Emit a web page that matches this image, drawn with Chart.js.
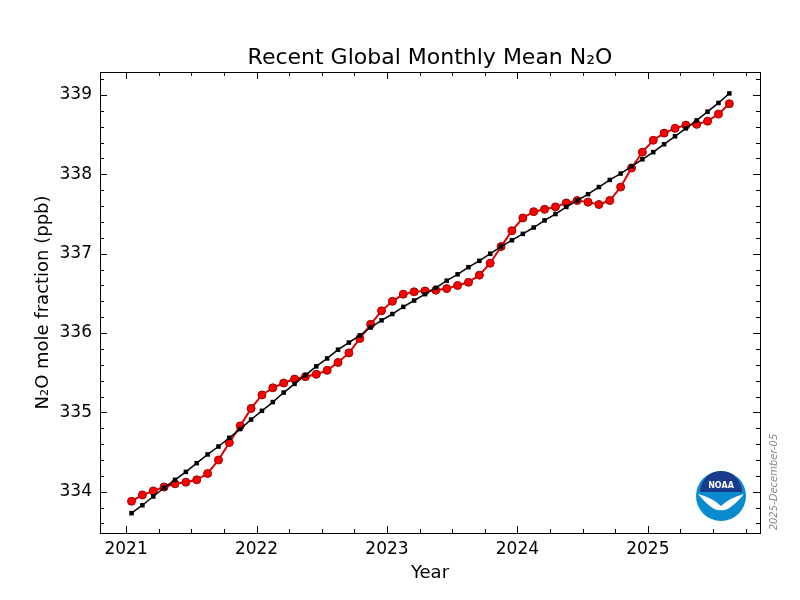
<!DOCTYPE html>
<html>
<head>
<meta charset="utf-8">
<script src="https://cdn.jsdelivr.net/npm/chart.js@4"></script>
<style>
  html, body { margin: 0; padding: 0; background: #fff; }
  #wrap { width: 800px; height: 600px; }
</style>
</head>
<body>
<div id="wrap"><canvas id="chart"></canvas></div>
<script>
const startYear = 2021;
const monthlyMean = [
  333.88, 333.96, 334.01, 334.06, 334.10, 334.12, 334.15, 334.23, 334.40, 334.62, 334.83, 335.05,
  335.22, 335.31, 335.37, 335.42, 335.45, 335.48, 335.53, 335.63, 335.75, 335.93, 336.11, 336.28,
  336.40, 336.49, 336.52, 336.53, 336.54, 336.56, 336.60, 336.64, 336.73, 336.88, 337.09, 337.29,
  337.45, 337.53, 337.56, 337.59, 337.64, 337.67, 337.65, 337.62, 337.67, 337.84, 338.08, 338.28,
  338.43, 338.52, 338.58, 338.62, 338.63, 338.67, 338.76, 338.89
];
const trend = [
  333.73, 333.83, 333.94, 334.05, 334.15, 334.25, 334.36, 334.47, 334.57, 334.68, 334.79, 334.91,
  335.02, 335.13, 335.25, 335.36, 335.47, 335.58, 335.68, 335.79, 335.88, 335.97, 336.07, 336.16,
  336.24, 336.33, 336.41, 336.49, 336.57, 336.66, 336.74, 336.83, 336.91, 337.00, 337.09, 337.17,
  337.25, 337.33, 337.42, 337.50, 337.59, 337.67, 337.75, 337.84, 337.93, 338.01, 338.10, 338.19,
  338.28, 338.38, 338.48, 338.58, 338.68, 338.79, 338.90, 339.02
];
const xTicks = [2021, 2022, 2023, 2024, 2025];
const yTicks = [334, 335, 336, 337, 338, 339];

const toPoints = arr => arr.map((v, i) => ({ x: startYear + (i + 0.5) / 12, y: v }));

// inward ticks, frame, titles, date stamp and logo
const decor = {
  id: 'decor',
  afterDraw(chart) {
    const { ctx, chartArea: a, scales: { x, y } } = chart;
    ctx.save();
    ctx.strokeStyle = '#000';
    ctx.lineWidth = 1;
    ctx.strokeRect(a.left + 0.5, a.top + 0.5, a.right - a.left, a.bottom - a.top);
    ctx.beginPath();
    for (let v = 2020.75; v <= x.max; v += 0.25) {
      if (v < x.min) continue;
      const px = Math.round(x.getPixelForValue(v)) + 0.5;
      const len = Number.isInteger(v) ? 7 : 4;
      ctx.moveTo(px, a.bottom); ctx.lineTo(px, a.bottom - len);
      ctx.moveTo(px, a.top); ctx.lineTo(px, a.top + len);
    }
    for (let k = Math.ceil(y.min * 5); k <= y.max * 5; k++) {
      const py = Math.round(y.getPixelForValue(k / 5)) + 0.5;
      const len = k % 5 === 0 ? 7 : 4;
      ctx.moveTo(a.left, py); ctx.lineTo(a.left + len, py);
      ctx.moveTo(a.right, py); ctx.lineTo(a.right - len, py);
    }
    ctx.stroke();

    ctx.fillStyle = '#000';
    ctx.textAlign = 'center';
    ctx.textBaseline = 'alphabetic';
    ctx.font = '22px "DejaVu Sans"';
    ctx.fillText('Recent Global Monthly Mean N₂O', (a.left + a.right) / 2, 64);
    ctx.font = '18px "DejaVu Sans"';
    ctx.fillText('Year', (a.left + a.right) / 2, 578);

    ctx.save();
    ctx.translate(48, (a.top + a.bottom) / 2);
    ctx.rotate(-Math.PI / 2);
    ctx.fillText('N₂O mole fraction (ppb)', 0, 0);
    ctx.restore();

    ctx.save();
    ctx.translate(777, 482);
    ctx.rotate(-Math.PI / 2);
    ctx.fillStyle = '#888';
    ctx.font = 'italic 10px "DejaVu Sans"';
    ctx.fillText('2025-December-05', 0, 0);
    ctx.restore();

    // simplified NOAA logo
    const cx = 721, cy = 496, r = 25;
    ctx.beginPath(); ctx.arc(cx, cy, r, 0, Math.PI * 2);
    ctx.fillStyle = '#0a8bd0'; ctx.fill();
    ctx.beginPath(); ctx.arc(cx, cy - 4, r - 4, Math.PI, 0);
    ctx.fillStyle = '#1a3a8c'; ctx.fill();
    ctx.beginPath();
    ctx.moveTo(cx - r + 2, cy - 2);
    ctx.quadraticCurveTo(cx - 8, cy + 2, cx, cy + 10);
    ctx.quadraticCurveTo(cx + 8, cy + 2, cx + r - 2, cy - 2);
    ctx.quadraticCurveTo(cx + 8, cy + 16, cx, cy + 14);
    ctx.quadraticCurveTo(cx - 8, cy + 16, cx - r + 2, cy - 2);
    ctx.fillStyle = '#fff'; ctx.fill();
    ctx.font = 'bold 8px "DejaVu Sans"';
    ctx.fillText('NOAA', cx, cy - 8);
    ctx.restore();
  }
};

new Chart(document.getElementById('chart'), {
  type: 'line',
  data: {
    datasets: [
      {
        label: 'Trend',
        data: toPoints(trend),
        borderColor: '#000', backgroundColor: '#000',
        borderWidth: 1.5, pointStyle: 'rect', pointRadius: 3.2, pointBorderWidth: 0
      },
      {
        label: 'Monthly mean',
        data: toPoints(monthlyMean),
        borderColor: '#e00000', backgroundColor: '#ff0000',
        borderWidth: 2, pointRadius: 4, pointBorderColor: '#900', pointBorderWidth: 1
      }
    ]
  },
  options: {
    responsive: true,
    maintainAspectRatio: false,
    animation: false,
    layout: { padding: { top: 72, right: 40, bottom: 0, left: 0 } },
    plugins: { legend: { display: false }, tooltip: { enabled: false } },
    scales: {
      x: {
        type: 'linear', min: 2020.8, max: 2025.86,
        afterBuildTicks: s => { s.ticks = xTicks.map(v => ({ value: v })); },
        afterFit: s => { s.height = 67; },
        grid: { display: false, drawTicks: false },
        border: { display: false },
        ticks: { color: '#000', font: { size: 17, family: 'DejaVu Sans' }, padding: 6, maxRotation: 0, callback: v => String(v) }
      },
      y: {
        min: 333.48, max: 339.29,
        afterBuildTicks: s => { s.ticks = yTicks.map(v => ({ value: v })); },
        afterFit: s => { s.width = 100; },
        grid: { display: false, drawTicks: false },
        border: { display: false },
        ticks: { color: '#000', font: { size: 17, family: 'DejaVu Sans' }, padding: 8 }
      }
    }
  },
  plugins: [decor]
});
</script>
</body>
</html>
